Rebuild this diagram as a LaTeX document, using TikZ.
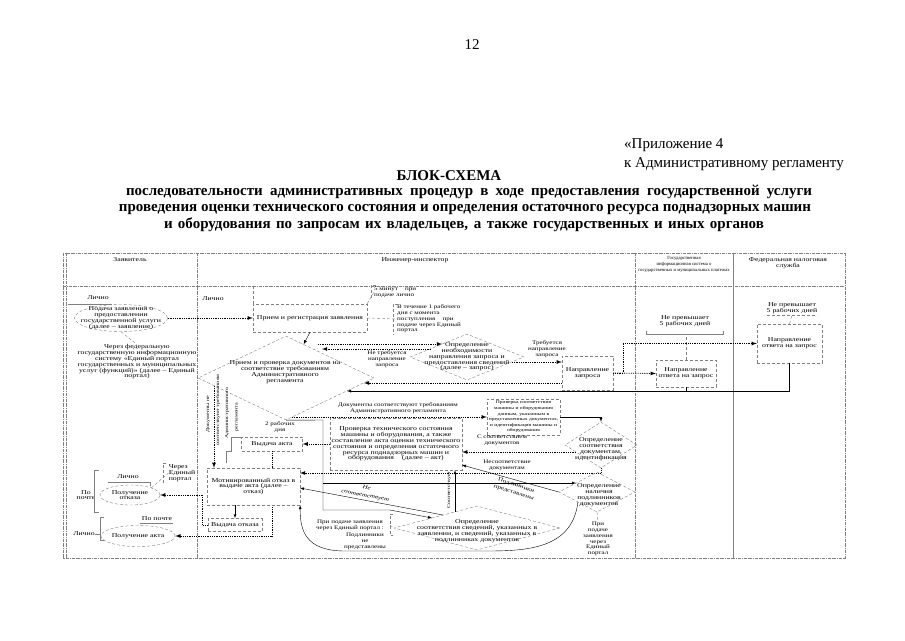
\documentclass[tikz,border=0pt]{standalone}
\usepackage{fontspec}
\setmainfont{Liberation Serif}
\newfontfamily\diagfamily[FakeStretch=1.3]{Liberation Serif}
\usetikzlibrary{shapes,arrows,positioning}

\newcommand{\fbody}{\diagfamily\fontsize{6}{5.8}\selectfont}
\newcommand{\fnote}{\diagfamily\fontsize{5.4}{5.8}\selectfont}
\newcommand{\fslant}{\diagfamily\fontsize{5.4}{7.5}\selectfont}
\newcommand{\fsmall}{\diagfamily\fontsize{4.3}{5.6}\selectfont}
\newcommand{\fvert}{\diagfamily\fontsize{4.6}{5}\selectfont}
\newcommand{\fhead}{\fontsize{4.7}{6}\selectfont}
\newcommand{\ftitle}{\fontsize{15}{18}\selectfont\bfseries}
\newcommand{\fpage}{\fontsize{15}{18}\selectfont}

\begin{document}
\begin{tikzpicture}[
    x=1pt, y=-1pt,
    every node/.style={inner sep=0pt, align=center, font=\fbody},
    box/.style={rectangle, draw=gray, densely dashed, fill=white},
    oval/.style={ellipse, draw=gray, densely dashed},
    rhomb/.style={diamond, draw=gray, densely dashed},
    lane/.style={draw=gray, dash pattern=on 3pt off 1pt on 0.6pt off 1pt},
    guide/.style={draw=gray, densely dashed},
    bracket/.style={draw=gray},
    arrow/.style={-latex},
    dotarrow/.style={-latex, densely dotted, thick}
]
\useasboundingbox (0,0) rectangle (905,640);

% page head
\node[font=\fpage] (pagenum) at (472,45) {12};
\node[font=\fpage, anchor=base west] (annex1) at (624,148) {«Приложение 4};
\node[font=\fpage, anchor=base west] (annex2) at (624,167) {к Административному регламенту};
\node[font=\ftitle] (title1) at (449,176) {БЛОК-СХЕМА};
\node[font=\ftitle, anchor=base] (title2) at (469,195.5) {\makebox[686pt][s]{последовательности административных процедур в ходе предоставления государственной услуги}};
\node[font=\ftitle, anchor=base] (title3) at (465,211.5) {проведения оценки технического состояния и определения остаточного ресурса поднадзорных машин};
\node[font=\ftitle, anchor=base] (title4) at (464,228.5) {\makebox[600pt][s]{и оборудования по запросам их владельцев, а также государственных и иных органов}};

% lanes
\draw[lane] (63,253) rectangle (845,558);
\draw[lane] (66,253) -- (66,558);
\draw[lane] (63,286) -- (845,286);
\draw[lane] (197,253) -- (197,558);
\draw[lane] (635,253) -- (635,558);
\draw[bracket] (733,253) -- (733,558);
\node (hzayav) at (130,260) {Заявитель};
\node (hinsp) at (415,260) {Инженер-инспектор};
\node[font=\fhead] (hgis) at (684,264) {Государственная\\информационная система о\\государственных и муниципальных платежах};
\node (hfns) at (788,263) {Федеральная налоговая\\служба};

% applicant
\node (lich1) at (98,298) {Лично};
\draw[bracket] (68,304) -- (112,304);
\node[oval, minimum width=93, minimum height=27] (zayav) at (121,318) {};
\node (zayavtxt) at (121,318) {Подача заявления о\\предоставлении\\государственной услуги\\(далее – заявление)};
\node (portal) at (137,362) {Через федеральную\\государственную информационную\\систему «Единый портал\\государственных и муниципальных\\услуг (функций)» (далее – Единый\\портал)};
\draw[guide] (zayav.south) -- (portal.north);

% reception
\node (lich2) at (213,299) {Лично};
\node[box, minimum width=114, minimum height=28] (priem) at (310,318) {Прием и регистрация заявления};
\draw[guide] (priem.north west) -- ++(0,-19);
\draw[dotarrow] (zayav.east) -- (priem.west);
\node[font=\fnote, anchor=west, align=left] (min5) at (374,292) {5 минут \quad при\\подаче лично};
\draw[guide] (376,285) -- (371,285) -- (371,300);
\draw[guide] (priem.north east) -- (min5.west);
\node[font=\fnote, anchor=west, align=left] (day1) at (397,319) {В течение 1 рабочего\\дня с момента\\поступления \quad при\\подаче через Единый\\портал};
\draw[guide] (398,304) -- (393,304) -- (393,335);
\draw[guide] (priem.east) -- (day1.west);

% document check
\node[rhomb, minimum width=176, minimum height=84] (check) at (286,378) {};
\node (checktxt) at (285,372) {Прием и проверка документов на\\соответствие требованиям\\Административного\\регламента};
\draw[arrow] (priem.south) -- (check);

% request
\node[rhomb, minimum width=114, minimum height=46] (zapros) at (467,357) {};
\node (zapros txt) at (467,357) {Определение\\необходимости\\направления запроса и\\предоставления сведений\\(далее – запрос)};
\coordinate (q1) at (318,344);
\coordinate (q2) at (442,344);
\coordinate (q3) at (431,349);
\coordinate (q4) at (322,349);
\coordinate (q5) at (512,362);
\draw[dotarrow] (q1) -- (q2);
\draw[dotarrow] (q3) -- (q4);
\node[font=\fnote] (notreq) at (387,359) {Не требуется\\направление\\запроса};
\node[font=\fnote] (req) at (547,349) {Требуется\\направление\\запроса};
\node[box, minimum width=51, minimum height=34] (napr) at (587.5,373) {Направление\\запроса};
\draw[dotarrow] (q5) -- (q5 -| napr.west);

% agencies
\node[font=\fbody] (lim1) at (685,321) {Не превышает\\5 рабочих дней};
\draw[bracket] (646,331) -- (646,334) -- (723,334) -- (723,331);
\coordinate (gislim) at (686,334);
\node[box, minimum width=60, minimum height=27] (gisbox) at (686,373.5) {Направление\\ответа на запрос};
\draw[guide] (gisbox.north) -- (gislim);
\node[font=\fbody] (lim2) at (792,308) {Не превышает\\5 рабочих дней};
\draw[guide] (767,315) -- (817,315);
\coordinate (fnslim) at (792,315);
\node[box, minimum width=65, minimum height=39] (fnsbox) at (789.5,343.5) {Направление\\ответа на запрос};
\draw[guide] (fnsbox.north) -- (fnslim);
\draw[dotarrow] (napr.east) -- (gisbox.west);
\draw[dotarrow] (napr.east) -- ++(10,0) |- (fnsbox.west);
\coordinate (ret1) at (347,391);
\coordinate (ret2) at (364,383);
\draw[arrow] (fnsbox.south) |- (ret1);
\draw (gisbox.south) -- (gisbox.south |- ret1);
\draw[dotarrow] (napr.west |- ret2) -- (ret2);

% inspection
\node[font=\fnote] (okdocs) at (398,408) {Документы соответствуют требованиям\\Административного регламента};
\node[box, minimum width=73, minimum height=36, font=\fsmall] (sootv) at (523.5,417) {Проверка соответствия\\машины и оборудования\\данным, указанным в\\представленных документах,\\и идентификация машины и\\оборудования};
\coordinate (q6) at (292,417);
\draw[dotarrow] (q6) -- (q6 -| sootv.west);
\node[rhomb, minimum width=72, minimum height=46] (opr) at (601,445) {};
\node (oprtxt) at (601,449) {Определение\\соответствия\\документам,\\идентификация};
\draw[arrow] (sootv.east) -| (opr.north);
\node[box, minimum width=132, minimum height=52] (tech) at (396,444) {Проверка технического состояния\\машины и оборудования, а также\\составление акта оценки технического\\состояния и определения остаточного\\ресурса поднадзорных машин и\\оборудования \quad(далее – акт)};
\coordinate (q7) at (576,452);
\draw[dotarrow] (q7) -- (q7 -| tech.east);
\node[font=\fnote] (withdocs) at (502,440) {С соответствием\\документов};
\node[font=\fnote] (nodocs) at (507,465) {Несоответствие\\документам};

% act issue
\node[box, minimum width=61, minimum height=14] (aktbox) at (272,444) {Выдача акта};
\node[font=\fnote] (days2) at (280,427) {2 рабочих\\дня};
\draw[dotarrow] (tech.west) -- (aktbox.east);
\draw[bracket] (aktbox.north west) -- ++(-10,0) -- ++(0,14) -- ++(-5,0) -- ++(0,12);
\node[oval, minimum width=67, minimum height=21] (aktell) at (138,536) {Получение акта};
\draw[dotarrow] (aktbox.south) |- (aktell.east);

% refusal
\node[box, minimum width=93, minimum height=37] (motiv) at (253.5,486.5) {Мотивированный отказ в\\выдаче акта (далее –\\отказ)};
\coordinate (q8) at (214,386);
\draw[dotarrow] (q8) -- (q8 |- motiv.north);
\node[font=\fvert, rotate=90] (rej1) at (208,414) {Документы не};
\node[font=\fvert, rotate=90] (rej2) at (218,410) {соответствуют требованиям};
\node[font=\fvert, rotate=90] (rej3) at (227,413) {Административного};
\node[font=\fvert, rotate=90] (rej4) at (237,417) {регламента};
\coordinate (nesoot) at (300,473);
\draw[dotarrow] (opr.south) |- (nesoot);
\node[box, minimum width=54, minimum height=13] (vydotkaz) at (235,525) {Выдача отказа};
\draw[arrow] (vydotkaz.north |- motiv.south) -- (vydotkaz.north);
\node[oval, minimum width=60, minimum height=20] (otkaz) at (130,495) {Получение\\отказа};
\draw[dotarrow] (vydotkaz.west) -- ++(-5,0) |- (otkaz.east);

% applicant receipt notes
\node (lich3) at (128,477) {Лично};
\draw[bracket] (108,482) -- (150,482) -- (150,486);
\node[align=left] (viaep1) at (182,473) {Через\\Единый\\портал};
\draw[guide] (166,463) -- (163,463) -- (163,484);
\draw[guide] (otkaz.north east) -- (viaep1.west);
\node (post1) at (86,495) {По\\почте};
\draw[bracket] (99,470) -- (94,470) -- (94,512) -- (99,512);
\node (post2) at (157,519) {По почте};
\draw[bracket] (140,523) -- (173,523);
\node (lich4) at (84,534) {Лично};
\draw[bracket] (104,517) -- (100,517) -- (100,540) -- (104,540);
\draw[bracket] (lich4.east) -- ++(6,0);

% originals
\node[rhomb, minimum width=76, minimum height=40] (nalich) at (597,492) {};
\node (nalichtxt) at (599,495) {Определение\\наличия\\подлинников\\документов};
\node[font=\fnote] (viaep2) at (598,539) {При\\подаче\\заявления\\через\\Единый\\портал};
\draw[guide] (nalich.south) -- (viaep2.north);
\node[rhomb, minimum width=166, minimum height=44] (sved) at (477,528) {};
\node (svedtxt) at (477,531) {Определение\\соответствия сведений, указанных в\\заявлении, и сведений, указанных в\\подлинниках документов};
\coordinate (s1) at (323,420);
\coordinate (s2) at (323,510);
\coordinate (s3) at (576,483);
\coordinate (s4) at (432,518);
\coordinate (s5) at (443,515);
\coordinate (s6) at (455,512);
\coordinate (s7) at (462,465);
\coordinate (m1) at (300,488);
\draw (check.south) -- (s1) -- (s2) -- ++(67,0);
\draw[arrow] (s2) ++(67,0) -- (s4);
\draw[arrow] (s1 |- s3) -- (s3);
\draw[arrow] (s5) -- (m1);
\draw[arrow] (s6) -- (s6 |- tech.south);
\draw[arrow] (nalich.west) -- (s7);
\draw[arrow] (nalich.south west) .. controls (572,552) and (520,551) .. (480,551) -- (345,551) .. controls (305,551) and (300,530) .. (motiv.south east);
\node[font=\fvert, rotate=90] (soot) at (449,490) {Соответствует};
\node[font=\fslant\itshape, rotate=-11] (nesootl) at (366,492) {Не\\соответствует};
\node[font=\fslant, rotate=-18] (origok) at (515,489) {Подлинники\\представлены};
\node[font=\fnote] (viaep3) at (350,525) {При подаче заявления\\через Единый портал :};
\node[font=\fnote] (noorig) at (365,541) {Подлинники\\не\\представлены};
\draw[guide] (393,514) -- (390,514) -- (390,535) -- (393,535);
\draw[guide] (390,525) -- (sved.west);
\end{tikzpicture}
\end{document}
